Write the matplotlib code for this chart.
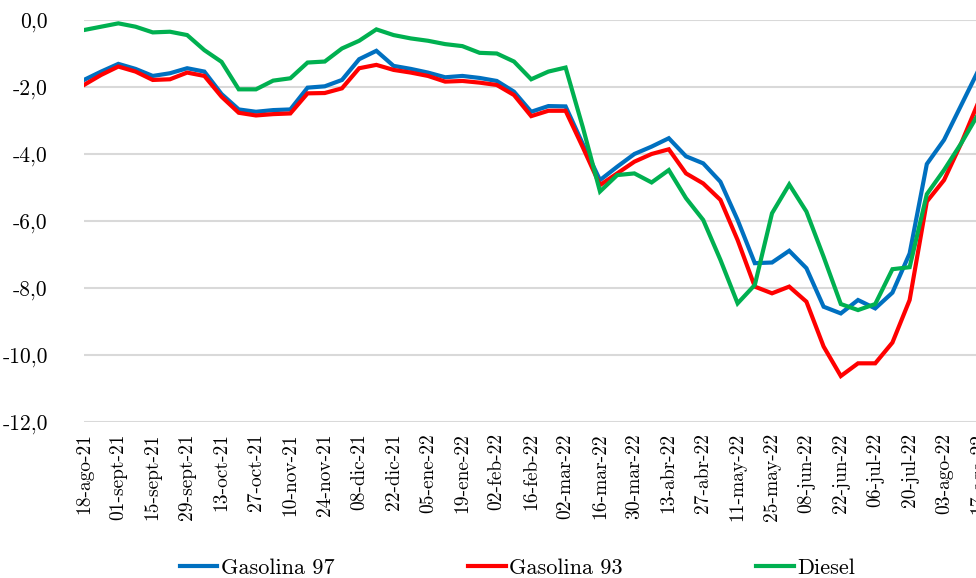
#!/usr/bin/env python3

import matplotlib
matplotlib.use("Agg")
import matplotlib.pyplot as plt
from matplotlib.ticker import FixedLocator, FuncFormatter

# weekly variation, one point per week from 18-ago-21 to 17-ago-22
gasolina_97 = [
    -1.79, -1.54, -1.31, -1.46, -1.67, -1.59, -1.44, -1.54, -2.21, -2.67,
    -2.74, -2.69, -2.67, -2.02, -1.98, -1.79, -1.17, -0.92, -1.37, -1.46,
    -1.57, -1.71, -1.67, -1.73, -1.82, -2.14, -2.74, -2.57, -2.58, -3.70,
    -4.78, -4.38, -4.00, -3.78, -3.53, -4.07, -4.28, -4.83, -5.97, -7.26,
    -7.24, -6.89, -7.41, -8.56, -8.76, -8.36, -8.61, -8.14, -6.97, -4.30,
    -3.58, -2.54, -1.50,
]
gasolina_93 = [
    -1.94, -1.64, -1.39, -1.54, -1.79, -1.77, -1.57, -1.67, -2.29, -2.77,
    -2.85, -2.81, -2.79, -2.19, -2.18, -2.04, -1.44, -1.34, -1.49, -1.57,
    -1.67, -1.84, -1.82, -1.87, -1.94, -2.24, -2.87, -2.71, -2.71, -3.80,
    -4.93, -4.58, -4.23, -4.00, -3.86, -4.58, -4.88, -5.37, -6.57, -7.96,
    -8.16, -7.96, -8.41, -9.75, -10.63, -10.25, -10.25, -9.63, -8.36, -5.42,
    -4.78, -3.68, -2.45,
]
diesel = [
    -0.30, -0.20, -0.10, -0.20, -0.37, -0.35, -0.45, -0.90, -1.25, -2.07,
    -2.07, -1.81, -1.74, -1.27, -1.24, -0.85, -0.62, -0.28, -0.45, -0.55,
    -0.62, -0.72, -0.78, -0.98, -1.00, -1.24, -1.77, -1.54, -1.42, -3.20,
    -5.12, -4.63, -4.58, -4.85, -4.48, -5.32, -5.97, -7.16, -8.46, -7.91,
    -5.77, -4.91, -5.72, -7.07, -8.48, -8.66, -8.48, -7.44, -7.38, -5.20,
    -4.48, -3.68, -2.80,
]
tick_labels = [
    "18-ago-21", "01-sept-21", "15-sept-21", "29-sept-21", "13-oct-21",
    "27-oct-21", "10-nov-21", "24-nov-21", "08-dic-21", "22-dic-21",
    "05-ene-22", "19-ene-22", "02-feb-22", "16-feb-22", "02-mar-22",
    "16-mar-22", "30-mar-22", "13-abr-22", "27-abr-22", "11-may-22",
    "25-may-22", "08-jun-22", "22-jun-22", "06-jul-22", "20-jul-22",
    "03-ago-22", "17-ago-22",
]
y_ticks = [0, -2, -4, -6, -8, -10, -12]

plt.rcParams["font.family"] = ["cmr10", "DejaVu Serif"]
plt.rcParams["axes.unicode_minus"] = False

fig = plt.figure(figsize=(9.76, 5.78), dpi=100)
ax = fig.add_axes([0.086, 0.270, 0.9165, 0.6954])

weeks = list(range(len(gasolina_97)))
ax.plot(weeks, gasolina_97, color="#0070C0", lw=3, label="Gasolina 97",
        solid_joinstyle="miter")
ax.plot(weeks, gasolina_93, color="#FF0000", lw=3, label="Gasolina 93",
        solid_joinstyle="miter")
ax.plot(weeks, diesel, color="#00B050", lw=3, label="Diesel",
        solid_joinstyle="miter")

ax.set_xlim(0, len(weeks) - 1)
ax.set_ylim(-12, 0)
ax.xaxis.set_major_locator(FixedLocator(range(0, len(weeks), 2)))
ax.set_xticklabels(tick_labels, rotation=90, fontsize=14)
ax.set_yticks(y_ticks)
ax.yaxis.set_major_formatter(
    FuncFormatter(lambda v, pos: "{:.1f}".format(v).replace(".", ","))
)
ax.tick_params(axis="y", labelsize=15.5, length=0, pad=26)
ax.tick_params(axis="x", length=0, pad=8)
for lbl in ax.get_yticklabels():
    lbl.set_horizontalalignment("right")

ax.grid(axis="y", color="#d9d9d9", lw=1.5)
ax.set_axisbelow(True)
for s in ax.spines.values():
    s.set_visible(False)

fig.legend(
    loc="center",
    bbox_to_anchor=(0.53, 0.017),
    ncol=3,
    frameon=False,
    fontsize=16,
    handlelength=1.7,
    handletextpad=0.15,
    columnspacing=6.0,
)

fig.savefig("out.png", dpi=100)
